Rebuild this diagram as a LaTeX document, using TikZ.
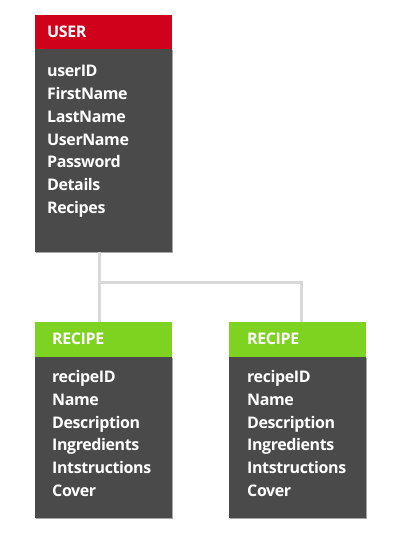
\documentclass[tikz,border=0pt]{standalone}
\usepackage{fontspec}
\setmainfont{Open Sans}[UprightFont={* Bold}, LetterSpace=-2.5]
\usetikzlibrary{shadows}
\definecolor{userred}{HTML}{D0021B}
\definecolor{recgreen}{HTML}{7ED321}
\definecolor{bodygray}{HTML}{4A4A4A}
\definecolor{linkgray}{HTML}{D9D9D9}
\tikzset{
  boxpart/.style={rectangle, inner sep=0pt, anchor=north west, minimum width=137pt, draw=none},
  headpart/.style={boxpart, minimum height=34pt},
  bodypart/.style={boxpart, fill=bodygray, drop shadow={shadow xshift=0.6pt, shadow yshift=-1.2pt, opacity=0.35, fill=black}},
  label/.style={anchor=base west, inner sep=0pt, text=white, font=\fontsize{16}{19}\selectfont},
  link/.style={draw=linkgray, line width=3pt}
}
\begin{document}
\begin{tikzpicture}[x=1pt,y=-1pt]
\useasboundingbox (0,0) rectangle (400,542);
% USER
\node[bodypart, minimum height=203pt] (userbody) at (35,49) {};
\node[headpart, fill=userred] (userhead) at (35,15) {};
\node[label] (ut) at (47,37) {USER};
\node[label] (u1) at (47,76) {userID};
\node[label] (u2) at (47,99) {FirstName};
\node[label] (u3) at (47,122) {LastName};
\node[label] (u4) at (47,145) {UserName};
\node[label] (u5) at (47,167) {Password};
\node[label] (u6) at (47,190) {Details};
\node[label] (u7) at (47,213) {Recipes};
% RECIPE 1
\node[bodypart, minimum height=161pt] (r1body) at (35,357) {};
\node[headpart, minimum height=35pt, fill=recgreen] (r1head) at (35,322) {};
\node[label] (r1t) at (52,344) {RECIPE};
\node[label] (r1a) at (52,382) {recipeID};
\node[label] (r1b) at (52,405) {Name};
\node[label] (r1c) at (52,428) {Description};
\node[label] (r1d) at (52,450) {Ingredients};
\node[label] (r1e) at (52,473) {Intstructions};
\node[label] (r1f) at (52,496) {Cover};
% RECIPE 2
\node[bodypart, minimum height=161pt] (r2body) at (229,357) {};
\node[headpart, minimum height=35pt, fill=recgreen] (r2head) at (229,322) {};
\node[label] (r2t) at (247,344) {RECIPE};
\node[label] (r2a) at (247,382) {recipeID};
\node[label] (r2b) at (247,405) {Name};
\node[label] (r2c) at (247,428) {Description};
\node[label] (r2d) at (247,450) {Ingredients};
\node[label] (r2e) at (247,473) {Intstructions};
\node[label] (r2f) at (247,496) {Cover};
% connectors
\coordinate (j1) at (99,282);
\coordinate (j2) at (301,282);
\draw[link] (userbody.south -| j1) -- (j1) -- (r1head.north -| j1);
\draw[link] (j1) -- (j2) -- (r2head.north -| j2);
\end{tikzpicture}
\end{document}
